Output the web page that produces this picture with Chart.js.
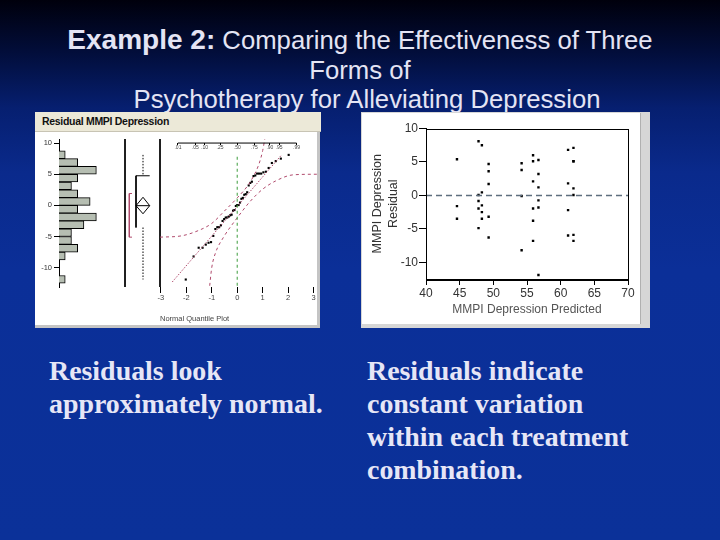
<!DOCTYPE html>
<html>
<head>
<meta charset="utf-8">
<script src="https://cdn.jsdelivr.net/npm/chart.js@4.4.1/dist/chart.umd.min.js"></script>
<style>
  html, body { margin:0; padding:0; }
  body { width:720px; height:540px; overflow:hidden;
    background: linear-gradient(to bottom, #00000c 0%, #020e3c 10%, #061f70 20%, #0a2a8c 32%, #0b2f98 50%, #0b3199 100%); }
  #root { position:relative; width:720px; height:540px; }
  .abs { position:absolute; }
  #title { left:0; top:25px; width:720px; text-align:center; color:#e4e4f4;
    font-family:'Liberation Sans', Arial, sans-serif; font-size:25.7px; line-height:29.5px; white-space:nowrap; }
  .body { position:absolute; color:#e6e6f6; font-family:'Liberation Serif','Times New Roman',serif;
    font-weight:bold; font-size:27.9px; line-height:33px; white-space:nowrap; }
  canvas { position:absolute; }
</style>
</head>
<body>
<div id="root">
  <div id="title" class="abs">
    <div><b style="font-size:28px;line-height:29.5px">Example 2:</b> Comparing the Effectiveness of Three</div>
    <div>Forms of</div>
    <div style="padding-left:14px">Psychotherapy for Alleviating Depression</div>
  </div>

  <!-- left panel -->
  <div class="abs" style="left:35px;top:112px;width:286px;height:19px;background:#ece9d8;border-bottom:1px solid #c8c4b4;"></div>
  <div class="abs" style="left:42px;top:112px;height:19px;line-height:19px;font-family:'Liberation Sans',Arial,sans-serif;font-size:10.5px;letter-spacing:-0.3px;font-weight:bold;color:#111;">Residual MMPI Depression</div>
  <div class="abs" style="left:35px;top:132px;width:282px;height:193px;background:#fff;border-right:3px solid #c4c4c4;border-bottom:3px solid #c4c4c4;"></div>
  <canvas id="hist" width="90" height="170" style="left:35px;top:132px;"></canvas>
  <canvas id="box" width="43" height="170" style="left:121px;top:132px;"></canvas>
  <canvas id="qq" width="166" height="195" style="left:156px;top:132px;"></canvas>

  <!-- right panel -->
  <div class="abs" style="left:361px;top:112px;width:289px;height:216px;background:#d6d6d6;"></div>
  <div class="abs" style="left:362px;top:113px;width:278px;height:211px;background:#fff;border-right:1px solid #b0b0b0;"></div>
  <canvas id="scatter" width="279" height="212" style="left:362px;top:113px;"></canvas>

  <div class="body" style="left:49px;top:354px;">Residuals look<br>approximately normal.</div>
  <div class="body" style="left:367px;top:354px;">Residuals indicate<br>constant variation<br>within each treatment<br>combination.</div>
</div>

<script>
// ---------------- data ----------------
const predicted = [44.6,44.6,44.6,
  47.8,48.3,49.3,49.3,49.3,48.3,47.8,47.8,48.3,47.8,48.3,49.3,48.3,47.8,49.3,
  54.2,54.2,54.2,54.2,55.9,55.9,56.7,56.7,55.9,56.7,56.7,56.7,55.9,55.9,55.9,56.7,
  61.1,61.9,61.9,61.1,61.9,61.9,61.1,61.1,61.9,61.9,61.9];
const residual = [5.4,-1.6,-3.5,
  8.1,7.5,4.7,3.6,1.7,0.45,0.05,-0.85,-1.5,-1.95,-2.5,-3.2,-3.5,-4.9,-6.3,
  4.8,3.8,-0.1,-8.2,6.0,5.1,5.3,3.2,2.1,1.2,-0.75,-1.8,-1.95,-3.8,-6.8,-11.9,
  6.8,7.1,5.1,1.8,1.05,0.05,-2.2,-6.0,-5.9,-6.8,5.1];

const histBinCenters = [8.125,6.875,5.625,4.375,3.125,1.875,0.625,-0.625,-1.875,-3.125,-4.375,-5.625,-6.875,-8.125,-9.375,-10.625,-11.875];
const histCounts     = [1,3,6,3,2,3,5,3,6,4,2,2,3,1,0,0,1];
const histTicks = [10,5,0,-5,-10];

const boxQuartiles = [-3.55, 4.75];        // Q1, Q3
const whiskerEnds  = [-11.9, 8.1];         // min, max
const meanDiamond  = [-1.35, -0.05, 1.3];  // lower CI, mean, upper CI
const shortestHalf = [-5.1, 1.9];

const qqTicks = [-3,-2,-1,0,1,2,3];
const probLabels = ['.01','.05','.10','.25','.50','.75','.90','.95','.99'];
const probValues = [0.01,0.05,0.10,0.25,0.50,0.75,0.90,0.95,0.99];
const qqLineZ = [-2.55, 1.72];
const qqLineV = [-12.3, 8.0];
const upperBandZ = [-3.03,-2.2,-1.5,-1.0,-0.5,0,0.5,0.85,1.0,1.08];
const upperBandV = [-5.1,-4.9,-4.0,-2.9,-0.9,1.2,3.7,6.6,8.8,10.6];
const lowerBandZ = [-1.08,-1.0,-0.85,-0.55,0,0.5,1.0,1.5,2.2,3.17];
const lowerBandV = [-12.9,-10.0,-7.6,-5.2,-2.0,0.6,2.6,3.9,4.9,5.0];

const scatterXTicks = [40,45,50,55,60,65,70];
const scatterYTicks = [-10,-5,0,5,10];

// ---------------- helpers ----------------
Chart.defaults.font.family = "'Liberation Sans', Arial, sans-serif";
Chart.defaults.animation = false;
Chart.defaults.responsive = false;
Chart.defaults.plugins.legend.display = false;
Chart.defaults.plugins.tooltip.enabled = false;

function normInv(p){
  const a=[-3.969683028665376e+01,2.209460984245205e+02,-2.759285104469687e+02,1.383577518672690e+02,-3.066479806614716e+01,2.506628277459239e+00];
  const b=[-5.447609879822406e+01,1.615858368580409e+02,-1.556989798598866e+02,6.680131188771972e+01,-1.328068155288572e+01];
  const c=[-7.784894002430293e-03,-3.223964580411365e-01,-2.400758277161838e+00,-2.549732539343734e+00,4.374664141464968e+00,2.938163982698783e+00];
  const d=[7.784695709041462e-03,3.224671290700398e-01,2.445134137142996e+00,3.754408661907416e+00];
  const pl=0.02425, ph=1-pl; let q,r;
  if(p<pl){q=Math.sqrt(-2*Math.log(p));return (((((c[0]*q+c[1])*q+c[2])*q+c[3])*q+c[4])*q+c[5])/((((d[0]*q+d[1])*q+d[2])*q+d[3])*q+1);}
  if(p>ph){q=Math.sqrt(-2*Math.log(1-p));return -(((((c[0]*q+c[1])*q+c[2])*q+c[3])*q+c[4])*q+c[5])/((((d[0]*q+d[1])*q+d[2])*q+d[3])*q+1);}
  q=p-0.5;r=q*q;return (((((a[0]*r+a[1])*r+a[2])*r+a[3])*r+a[4])*r+a[5])*q/(((((b[0]*r+b[1])*r+b[2])*r+b[3])*r+b[4])*r+1);
}
const zip = (xs, ys) => xs.map((x,i)=>({x, y: ys[i]}));
function seg(points, color, dash, width){
  return { data: points, borderColor: color, borderDash: dash || [], borderWidth: width || 1,
    pointRadius: 0, fill: false, tension: 0, clip: false, showLine: true };
}

const yMinL = -13.1, yMaxL = 10.65;   // shared vertical scale of the left panel

// ---------------- histogram ----------------
new Chart(document.getElementById('hist'), {
  type: 'bar',
  data: { datasets: [{
    data: zip(histCounts, histBinCenters),
    backgroundColor: '#b6beb2', borderColor: '#000',
    borderWidth: {top:1, bottom:1, right:1, left:0}, borderSkipped: 'left',
    barPercentage: 1, categoryPercentage: 1
  }]},
  options: {
    indexAxis: 'y',
    layout: { padding: { top: 7, bottom: 15, left: 0, right: 0 } },
    scales: {
      x: { type: 'linear', display: false, min: 0, max: 10.6 },
      y: { type: 'linear', min: yMinL, max: yMaxL, offset: false,
        afterFit: s => { s.width = 24; },
        afterBuildTicks: s => { s.ticks = histTicks.map(v => ({ value: v })); },
        grid: { display: true, drawOnChartArea: false, offset: false, tickLength: 5, color: '#000' },
        border: { display: true, color: '#000', width: 1 },
        ticks: { font: { size: 7.5 }, color: '#333', padding: 2, autoSkip: false } }
    }
  }
});

// ---------------- outlier box plot ----------------
const cx = 18, bl = 11, br = 24.7;
new Chart(document.getElementById('box'), {
  type: 'line',
  data: { datasets: [
    seg([{x:0,y:yMaxL},{x:0,y:yMinL}], '#000'),
    seg([{x:35,y:yMaxL},{x:35,y:yMinL}], '#000'),
    seg([{x:cx,y:whiskerEnds[1]},{x:cx,y:boxQuartiles[1]}], '#000', [1.5,1.5]),
    seg([{x:cx,y:boxQuartiles[0]},{x:cx,y:whiskerEnds[0]}], '#000', [1.5,1.5]),
    seg([{x:br,y:boxQuartiles[1]},{x:bl,y:boxQuartiles[1]},{x:bl,y:boxQuartiles[0]}], '#000'),
    seg([{x:bl,y:meanDiamond[1]},{x:cx,y:meanDiamond[2]},{x:br,y:meanDiamond[1]},{x:cx,y:meanDiamond[0]},{x:bl,y:meanDiamond[1]},{x:br,y:meanDiamond[1]}], '#000'),
    seg([{x:7,y:shortestHalf[1]},{x:4.3,y:shortestHalf[1]},{x:4.3,y:shortestHalf[0]},{x:7,y:shortestHalf[0]}], '#b04a6c')
  ]},
  options: {
    layout: { padding: { top: 7, bottom: 15, left: 4, right: 4 } },
    scales: {
      x: { type: 'linear', display: false, min: 0, max: 35 },
      y: { type: 'linear', display: false, min: yMinL, max: yMaxL }
    }
  }
});

// ---------------- normal quantile plot ----------------
const sortedRes = residual.slice().sort((a,b)=>a-b);
const nRes = sortedRes.length;
const qqPoints = sortedRes.map((v,i)=>({ x: normInv((i+1)/(nRes+1)), y: v }));
const probZ = probValues.map(normInv);
const qMin = -3.03, qMax = 3.17;
new Chart(document.getElementById('qq'), {
  type: 'scatter',
  data: { datasets: [
    seg([{x:probZ[0],y:10},{x:probZ[probZ.length-1],y:10}], '#000'),
    seg([{x:0,y:7.8},{x:0,y:yMinL}], '#3c9c3c', [3,3]),
    Object.assign(seg(zip(upperBandZ, upperBandV), '#b04a6c', [3,3]), { cubicInterpolationMode: 'monotone', clip: {left:0,top:0,right:0,bottom:0} }),
    Object.assign(seg(zip(lowerBandZ, lowerBandV), '#b04a6c', [3,3]), { cubicInterpolationMode: 'monotone', clip: {left:0,top:0,right:0,bottom:0} }),
    seg(zip(qqLineZ, qqLineV), '#b04a6c', [1.5,1.5]),
    { data: qqPoints, pointStyle: 'rect', pointRadius: 1.5, backgroundColor: '#000', borderWidth: 0, showLine: false }
  ]},
  options: {
    layout: { padding: { top: 7, bottom: 0, left: 4, right: 4 } },
    scales: {
      x: { type: 'linear', position: 'bottom', min: qMin, max: qMax,
        afterFit: s => { s.height = 40; },
        afterBuildTicks: s => { s.ticks = qqTicks.map(v => ({ value: v })); },
        grid: { display: true, drawOnChartArea: false, tickLength: 6, color: '#000' },
        border: { display: false },
        ticks: { font: { size: 7.5 }, color: '#444', padding: 0, autoSkip: false, maxRotation: 0 },
        title: { display: true, text: 'Normal Quantile Plot', align: 'start', font: { size: 7.5 }, color: '#444', padding: { top: 0, bottom: 4 } } },
      x2: { type: 'linear', position: { y: 10 }, min: qMin, max: qMax,
        afterBuildTicks: s => { s.ticks = probZ.map(v => ({ value: v })); },
        grid: { display: true, drawOnChartArea: false, tickLength: 2, color: '#000' },
        border: { display: false },
        ticks: { font: { size: 5 }, color: '#444', padding: 0, autoSkip: false, maxRotation: 0,
          callback: (v, i) => probLabels[i] } },
      y: { type: 'linear', display: false, min: yMinL, max: yMaxL }
    }
  }
});

// ---------------- residual by predicted ----------------
const framePlugin = { id: 'frame', afterDatasetsDraw(chart){
  const {ctx, chartArea:a} = chart; ctx.save(); ctx.strokeStyle = '#000'; ctx.lineWidth = 1;
  ctx.strokeRect(Math.round(a.left)+0.5, Math.round(a.top)+0.5, Math.round(a.right-a.left), Math.round(a.bottom-a.top)); ctx.restore(); } };
new Chart(document.getElementById('scatter'), {
  type: 'scatter',
  data: { datasets: [
    seg([{x:40,y:0},{x:70,y:0}], '#5e6e7e', [6,4], 1.5),
    { data: zip(predicted, residual), pointStyle: 'rect', pointRadius: 1.7, backgroundColor: '#000', borderWidth: 0, showLine: false }
  ]},
  options: {
    layout: { padding: { top: 15.5, bottom: 0, left: 0, right: 13 } },
    scales: {
      x: { type: 'linear', min: 40, max: 70,
        afterFit: s => { s.height = 46; },
        afterBuildTicks: s => { s.ticks = scatterXTicks.map(v => ({ value: v })); },
        grid: { display: true, drawOnChartArea: false, tickLength: 6, color: '#000' },
        border: { display: true, color: '#000' },
        ticks: { font: { size: 12 }, color: '#333', padding: 1, autoSkip: false, maxRotation: 0 },
        title: { display: true, text: 'MMPI Depression Predicted', font: { size: 12 }, color: '#555', padding: { top: 0, bottom: 8 } } },
      y: { type: 'linear', min: -12.5, max: 10,
        afterFit: s => { s.width = 64; },
        afterBuildTicks: s => { s.ticks = scatterYTicks.map(v => ({ value: v })); },
        grid: { display: true, drawOnChartArea: false, tickLength: 7, color: '#000' },
        border: { display: true, color: '#000' },
        ticks: { font: { size: 12 }, color: '#333', padding: 1, autoSkip: false },
        title: { display: true, text: ['MMPI Depression', 'Residual'], font: { size: 12.5, lineHeight: 1.3 }, color: '#333', padding: { top: 7, bottom: 0 } } }
    }
  },
  plugins: [framePlugin]
});
</script>
</body>
</html>
